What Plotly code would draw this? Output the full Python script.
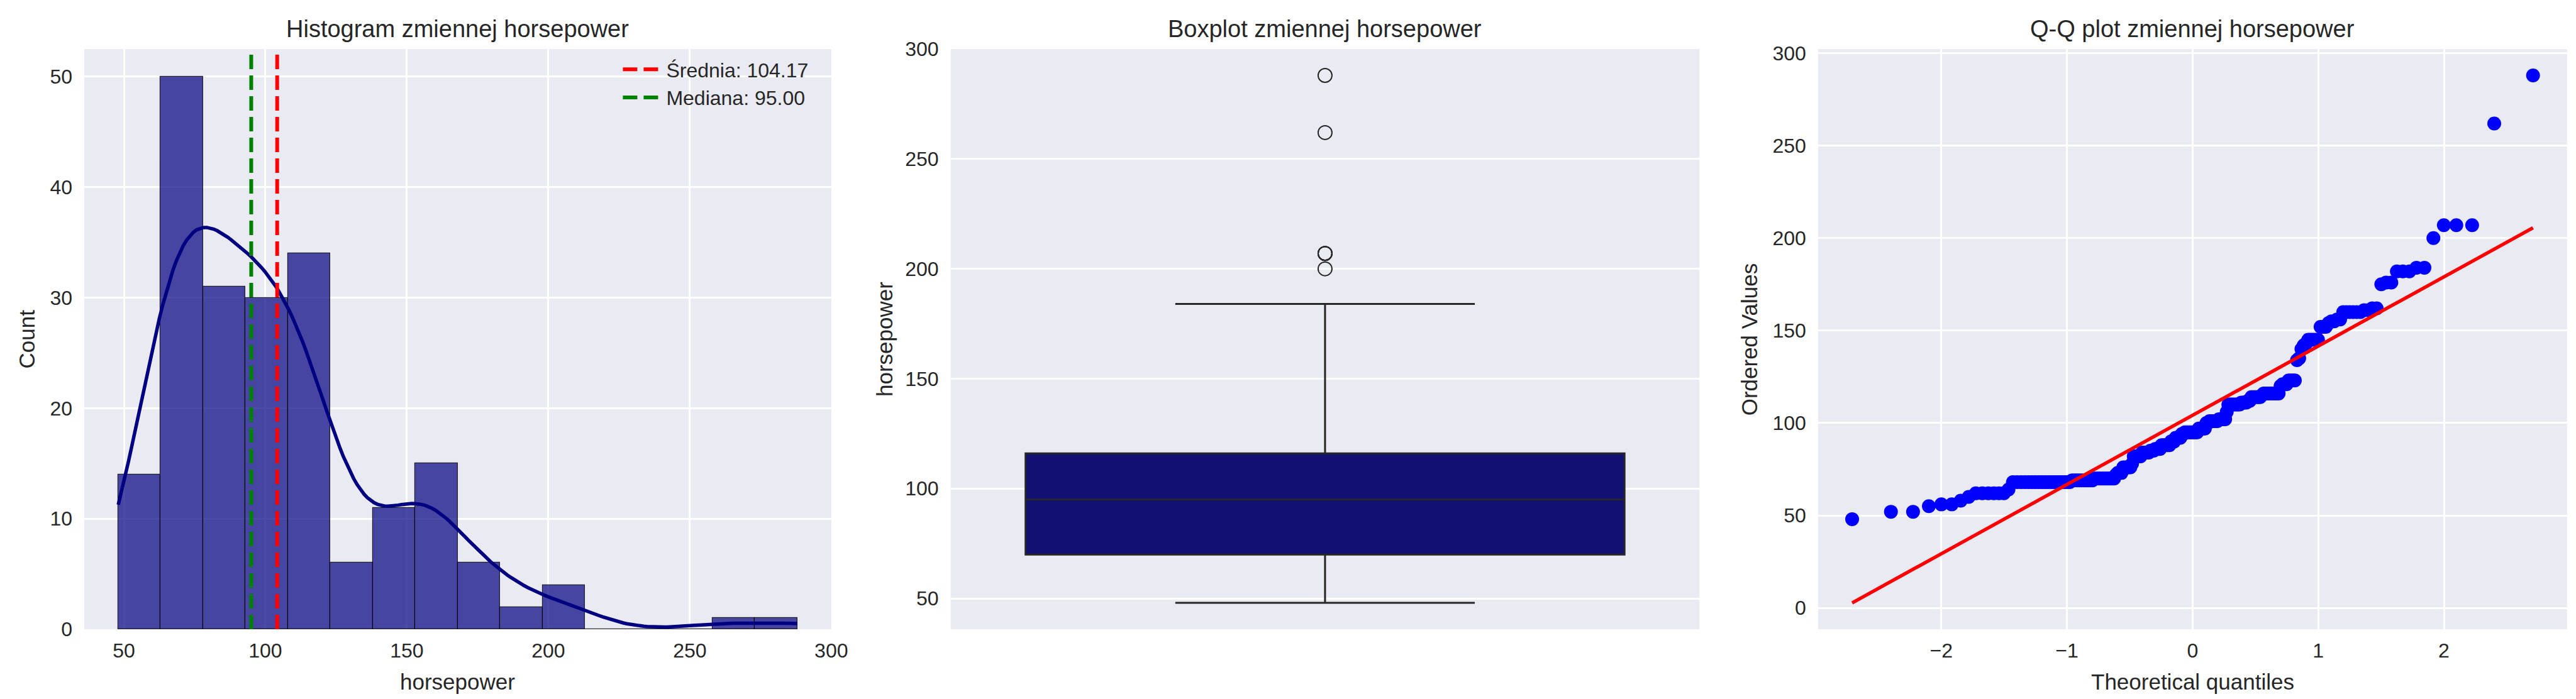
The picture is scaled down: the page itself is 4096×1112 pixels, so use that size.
import numpy as np
import plotly.graph_objects as go
from statistics import NormalDist

# ---------------- data ----------------
hp_values = [48, 52, 55, 56, 58, 60, 62, 64, 68, 69, 70, 72, 73, 76, 78,
             82, 84, 85, 86, 88, 90, 92, 94, 95, 97, 100, 101, 102, 106,
             110, 111, 112, 114, 115, 116, 120, 121, 123, 134, 135,
             140, 142, 143, 145, 152, 154, 155, 156, 160, 161, 162,
             175, 176, 182, 184, 200, 207, 262, 288]
hp_counts = [1, 2, 1, 2, 1, 1, 6, 1, 19, 10, 11, 1, 3, 5, 1,
             5, 5, 3, 4, 6, 3, 4, 2, 9, 5, 2, 6, 5, 1,
             8, 4, 2, 6, 1, 9, 1, 3, 4, 1, 1,
             1, 1, 1, 5, 3, 1, 2, 2, 6, 2, 2,
             1, 2, 3, 2, 1, 3, 1, 1]

bin_left = [48, 63, 78, 93, 108, 123, 138, 153, 168, 183, 198, 213, 228, 243, 258, 273]
bin_counts = [14, 50, 31, 30, 34, 6, 11, 15, 6, 2, 4, 0, 0, 0, 1, 1]
bin_width = 15

hist_xticks = [50, 100, 150, 200, 250, 300]
hist_yticks = [0, 10, 20, 30, 40, 50]
box_yticks = [50, 100, 150, 200, 250, 300]
qq_xticks = [-2, -1, 0, 1, 2]
qq_yticks = [0, 50, 100, 150, 200, 250, 300]

titles = ["Histogram zmiennej horsepower", "Boxplot zmiennej horsepower",
          "Q-Q plot zmiennej horsepower"]
var_name = "horsepower"

# ---------------- derived statistics ----------------
data = np.repeat(np.array(hp_values, float), hp_counts)
n = len(data)
mean = float(data.mean())
median = float(np.median(data))

# KDE as seaborn's histplot (gaussian, Scott bandwidth, cut=0, scaled to counts)
bw = data.std(ddof=1) * n ** (-1 / 5)
grid = np.linspace(data.min(), data.max(), 200)
dens = np.exp(-0.5 * ((grid[:, None] - data[None, :]) / bw) ** 2).sum(axis=1) / (n * bw * np.sqrt(2 * np.pi))
kde_counts = dens * n * bin_width

# Q-Q (scipy.stats.probplot style)
nd = NormalDist()
mN = 0.5 ** (1 / n)
probs = (np.arange(1, n + 1) - 0.3175) / (n + 0.365)
probs[0] = 1 - mN
probs[-1] = mN
osm = np.array([nd.inv_cdf(p) for p in probs])
osr = np.sort(data)
slope, intercept = np.polyfit(osm, osr, 1)
line_y = slope * osm + intercept


def margin(lo, hi, m=0.05):
    s = hi - lo
    return [lo - m * s, hi + m * s]


hist_xr = margin(min(bin_left), max(bin_left) + bin_width)
hist_yr = [0, max(bin_counts) * 1.05]
box_yr = margin(data.min(), data.max())
qq_xr = margin(osm.min(), osm.max())
qq_yr = margin(min(osr.min(), line_y.min()), max(osr.max(), line_y.max()))

# ---------------- layout geometry (reference pixels) ----------------
FW, FH = 5350.0, 1453.0
TXT = "#262626"
FONT = "Liberation Sans, Arial, sans-serif"


def px(x):
    return x / FW


def py(y):
    return 1 - y / FH


top, bot = 91.5, 1297.5
doms = [(164.6, 1716.0), (1964.0, 3519.0), (3765.5, 5321.0)]
ydom = [py(bot), py(top)]

fig = go.Figure()

# histogram bars
fig.add_trace(go.Bar(
    x=[b + bin_width / 2 for b in bin_left], y=bin_counts, width=bin_width,
    marker=dict(color="rgba(0,0,128,0.7)", line=dict(color="rgba(0,0,0,0.8)", width=1.2)),
    showlegend=False, xaxis="x", yaxis="y", hoverinfo="skip"))
# KDE
fig.add_trace(go.Scatter(x=grid, y=kde_counts, mode="lines",
                         line=dict(color="navy", width=5.5), showlegend=False,
                         xaxis="x", yaxis="y", hoverinfo="skip"))
# mean / median
fig.add_trace(go.Scatter(x=[mean, mean], y=hist_yr, mode="lines",
                         line=dict(color="red", width=6, dash="23px,10px"),
                         name=f"Średnia: {mean:.2f}", xaxis="x", yaxis="y"))
fig.add_trace(go.Scatter(x=[median, median], y=hist_yr, mode="lines",
                         line=dict(color="green", width=6, dash="23px,10px"),
                         name=f"Mediana: {median:.2f}", xaxis="x", yaxis="y"))

# boxplot
fig.add_trace(go.Box(y=data, x0=0, boxpoints="outliers", jitter=0, pointpos=0,
                     width=0.8, whiskerwidth=0.5, quartilemethod="linear",
                     fillcolor="#111173", line=dict(color="#262626", width=3),
                     marker=dict(symbol="circle-open", size=22, color="#262626",
                                 line=dict(width=2)),
                     showlegend=False, xaxis="x2", yaxis="y2", hoverinfo="skip"))

# Q-Q
fig.add_trace(go.Scatter(x=osm, y=osr, mode="markers",
                         marker=dict(color="blue", size=22), showlegend=False,
                         xaxis="x3", yaxis="y3", hoverinfo="skip"))
fig.add_trace(go.Scatter(x=osm, y=line_y, mode="lines",
                         line=dict(color="red", width=5.5), showlegend=False,
                         xaxis="x3", yaxis="y3", hoverinfo="skip"))

axis_common = dict(showgrid=True, gridcolor="white", gridwidth=3, zeroline=False,
                   showline=False, ticks="", fixedrange=True, automargin=False,
                   tickfont=dict(family=FONT, size=32, color=TXT))

fig.update_layout(
    width=4096, height=1112, margin=dict(l=0, r=0, t=0, b=0, autoexpand=False),
    paper_bgcolor="white", plot_bgcolor="#EAEAF2",
    font=dict(family=FONT, color=TXT),
    bargap=0,
    xaxis=dict(domain=[px(doms[0][0]), px(doms[0][1])], anchor="y", range=hist_xr,
               tickvals=hist_xticks, ticklabelstandoff=12, **axis_common),
    yaxis=dict(domain=ydom, anchor="x", range=hist_yr, tickvals=hist_yticks,
               ticklabelstandoff=18, **axis_common),
    xaxis2=dict(domain=[px(doms[1][0]), px(doms[1][1])], anchor="y2", range=[-0.5, 0.5],
                **{**axis_common, "showgrid": False}, showticklabels=False),
    yaxis2=dict(domain=ydom, anchor="x2", range=box_yr, tickvals=box_yticks,
                ticklabelstandoff=18, **axis_common),
    xaxis3=dict(domain=[px(doms[2][0]), px(doms[2][1])], anchor="y3", range=qq_xr,
                tickvals=qq_xticks, ticklabelstandoff=12, **axis_common),
    yaxis3=dict(domain=ydom, anchor="x3", range=qq_yr, tickvals=qq_yticks,
                ticklabelstandoff=18, **axis_common),
    legend=dict(x=px(1675), y=py(98), xanchor="right", yanchor="top",
                bgcolor="rgba(0,0,0,0)", font=dict(family=FONT, size=32, color=TXT),
                tracegroupgap=0, itemwidth=64),
)

ann = []
for (l, r), t in zip(doms, titles):
    ann.append(dict(text=t, x=px((l + r) / 2), y=py(49.5), xref="paper", yref="paper",
                    xanchor="center", yanchor="middle", showarrow=False,
                    font=dict(family=FONT, size=38, color=TXT)))
for (l, r), t in [(doms[0], var_name), (doms[2], "Theoretical quantiles")]:
    ann.append(dict(text=t, x=px((l + r) / 2), y=py(1406), xref="paper", yref="paper",
                    xanchor="center", yanchor="middle", showarrow=False,
                    font=dict(family=FONT, size=35, color=TXT)))
for xc, t in [(45.7, "Count"), (1826.7, var_name), (3623.0, "Ordered Values")]:
    ann.append(dict(text=t, x=px(xc), y=py((top + bot) / 2), xref="paper", yref="paper",
                    xanchor="center", yanchor="middle", showarrow=False, textangle=-90,
                    font=dict(family=FONT, size=35, color=TXT)))
fig.update_layout(annotations=ann)

fig.write_html("out.html")
